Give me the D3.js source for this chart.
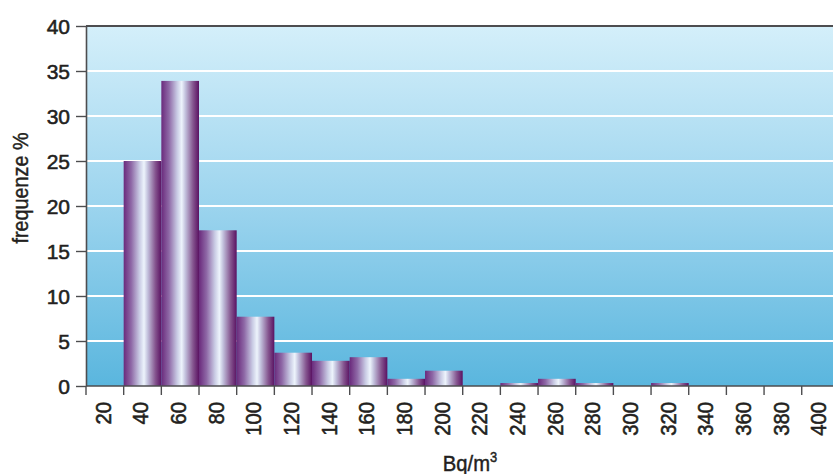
<!DOCTYPE html>
<html>
<head>
<meta charset="utf-8">
<script src="https://cdn.jsdelivr.net/npm/d3@7"></script>
<style>
  html, body { margin: 0; padding: 0; background: #ffffff; }
  svg { display: block; }
  text { font-family: "Liberation Sans", Arial, Helvetica, sans-serif; fill: #231f20; }
</style>
</head>
<body>
<svg id="chart" width="833" height="474"></svg>
<script>
// Radon concentration classes (Bq/m³) and relative frequency (%)
const categories = [20, 40, 60, 80, 100, 120, 140, 160, 180, 200,
                    220, 240, 260, 280, 300, 320, 340, 360, 380, 400];
const frequencies = [0, 25, 33.9, 17.3, 7.7, 3.7, 2.8, 3.2, 0.8, 1.7,
                     0, 0.33, 0.8, 0.33, 0, 0.33, 0, 0, 0, 0];
const yTicks = [0, 5, 10, 15, 20, 25, 30, 35, 40];
const yTitle = "frequenze %";
const xTitle = "Bq/m";

const svg = d3.select("#chart");
const plotLeft = 86, plotTop = 26, plotBottom = 386;
const bandW = 37.67;
const plotRight = plotLeft + bandW * categories.length;
const ink = "#231f20";

const x = d3.scaleBand().domain(categories).range([plotLeft, plotRight]).padding(0);
const y = d3.scaleLinear().domain([0, 40]).range([plotBottom, plotTop]);

const defs = svg.append("defs");
const bg = defs.append("linearGradient").attr("id", "bgGrad")
  .attr("x1", 0).attr("y1", 0).attr("x2", 0).attr("y2", 1);
bg.append("stop").attr("offset", "0%").attr("stop-color", "#d4effa");
bg.append("stop").attr("offset", "50%").attr("stop-color", "#9cd4ee");
bg.append("stop").attr("offset", "100%").attr("stop-color", "#5ab6de");

const bar = defs.append("linearGradient").attr("id", "barGrad")
  .attr("x1", 0).attr("y1", 0).attr("x2", 1).attr("y2", 0);
[["0%", "#6a2a7c"], ["20%", "#8e68a6"], ["42%", "#c9cbe4"], ["54%", "#edf4fc"],
 ["64%", "#c2c0dc"], ["84%", "#85558f"], ["100%", "#5a1262"]]
  .forEach(([o, c]) => bar.append("stop").attr("offset", o).attr("stop-color", c));

// plot background
svg.append("rect")
  .attr("x", plotLeft).attr("y", plotTop)
  .attr("width", plotRight - plotLeft).attr("height", plotBottom - plotTop)
  .attr("fill", "url(#bgGrad)");

// horizontal gridlines
svg.append("g").selectAll("line")
  .data(yTicks.filter(d => d > 0 && d < 40))
  .join("line")
  .attr("x1", plotLeft).attr("x2", plotRight)
  .attr("y1", d => y(d)).attr("y2", d => y(d))
  .attr("stroke", "#ffffff").attr("stroke-width", 1.8);

// bars
svg.append("g").selectAll("rect")
  .data(categories.map((c, i) => ({ c, v: frequencies[i] })).filter(d => d.v > 0))
  .join("rect")
  .attr("x", d => x(d.c))
  .attr("y", d => y(d.v))
  .attr("width", x.bandwidth())
  .attr("height", d => y(0) - y(d.v))
  .attr("fill", "url(#barGrad)");

// top frame line
svg.append("line")
  .attr("x1", plotLeft).attr("x2", plotRight)
  .attr("y1", y(40)).attr("y2", y(40))
  .attr("stroke", "#4d4d4f").attr("stroke-width", 2);

// y axis
const yAxis = svg.append("g")
  .attr("transform", `translate(${plotLeft},0)`)
  .call(d3.axisLeft(y).tickValues(yTicks).tickSize(10).tickPadding(6).tickSizeOuter(0));
yAxis.select(".domain").attr("stroke", "#4d4d4f").attr("stroke-width", 1.6);
yAxis.selectAll(".tick line").attr("stroke", "#4d4d4f").attr("stroke-width", 1.4);
yAxis.selectAll(".tick text")
  .attr("font-size", 21)
  .attr("font-family", "'Liberation Sans', Arial, sans-serif")
  .attr("fill", ink)
  .attr("stroke", ink).attr("stroke-width", 0.55)
  .attr("dy", "0.34em");

// x axis: ticks on class boundaries, labels centred in each class
const xAxisG = svg.append("g").attr("transform", `translate(0,${plotBottom})`);
xAxisG.append("line")
  .attr("x1", plotLeft).attr("x2", plotRight)
  .attr("stroke", "#4d4d4f").attr("stroke-width", 1.6);
xAxisG.selectAll("line.tk")
  .data(categories)
  .join("line").attr("class", "tk")
  .attr("x1", d => x(d)).attr("x2", d => x(d))
  .attr("y1", 0).attr("y2", 9)
  .attr("stroke", "#4d4d4f").attr("stroke-width", 1.4);
xAxisG.selectAll("text.lbl")
  .data(categories)
  .join("text").attr("class", "lbl")
  .attr("transform", d => `translate(${x(d) + x.bandwidth() / 2 - 2},16) rotate(-90) scale(0.92,1)`)
  .attr("text-anchor", "end")
  .attr("dominant-baseline", "central")
  .attr("font-size", 22)
  .attr("stroke", ink).attr("stroke-width", 0.55)
  .text(d => d);

// axis titles
svg.append("text")
  .attr("transform", `translate(28,188) rotate(-90) scale(0.9,1)`)
  .attr("text-anchor", "middle")
  .attr("font-size", 22)
  .attr("stroke", ink).attr("stroke-width", 0.45)
  .text(yTitle);

const xt = svg.append("text")
  .attr("transform", "translate(470,471) scale(0.92,1)")
  .attr("text-anchor", "middle")
  .attr("font-size", 22)
  .attr("stroke", ink).attr("stroke-width", 0.45);
xt.append("tspan").text(xTitle);
xt.append("tspan").attr("font-size", 14).attr("dy", -9).text("3");
</script>
</body>
</html>
